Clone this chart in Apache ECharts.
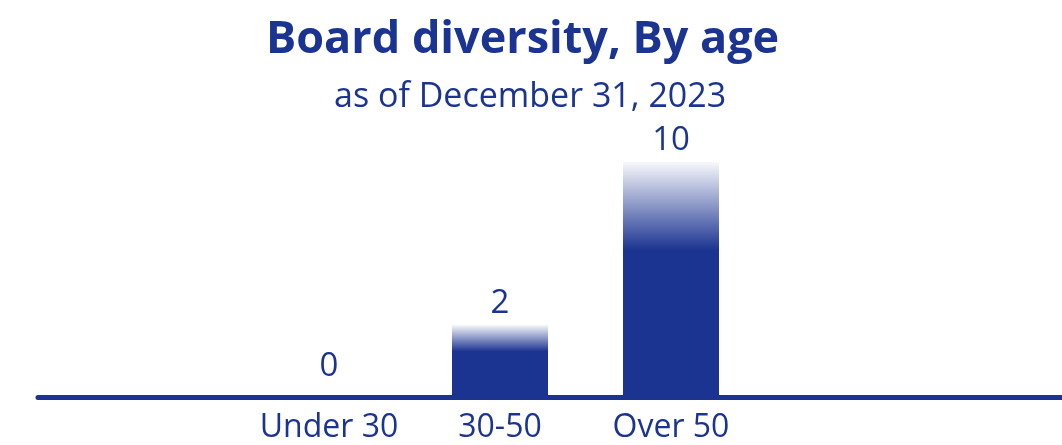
<!DOCTYPE html>
<html>
<head>
<meta charset="utf-8">
<script src="https://cdn.jsdelivr.net/npm/echarts@6/dist/echarts.min.js"></script>
<style>
  html, body { margin: 0; padding: 0; background: #ffffff; }
  #chart { width: 1062px; height: 445px; }
</style>
</head>
<body>
<div id="chart"></div>
<script>
// Board members by age band
const ageGroups = ['Under 30', '30-50', 'Over 50'];
const memberCounts = [0, 2, 10];

const BLUE = '#1b3391';
const FONT = '"Open Sans", Lato, sans-serif';

// Counts of zero cannot sit on a log scale; they are labelled on a linear twin axis.
const zeroCounts = memberCounts.map(v => (v === 0 ? 0 : '-'));

const chart = echarts.init(document.getElementById('chart'), null, { renderer: 'canvas' });

const valueLabel = {
  show: true,
  position: 'top',
  color: BLUE,
  fontFamily: FONT,
  fontSize: 33
};

chart.setOption({
  backgroundColor: '#ffffff',
  animation: false,
  title: [
    {
      text: 'Board diversity, By age',
      left: 261,
      top: 13,
      textStyle: { color: BLUE, fontFamily: FONT, fontWeight: 'bold', fontSize: 45 }
    },
    {
      text: 'as of December 31, 2023',
      left: 329,
      top: 75,
      textStyle: { color: BLUE, fontFamily: FONT, fontWeight: 'normal', fontSize: 34 }
    }
  ],
  grid: [
    // bar area
    { left: 243.5, right: 305.5, top: 162, bottom: 50, containLabel: false },
    // full-width baseline
    { left: 38, right: -10, top: 100, bottom: 47.5, containLabel: false }
  ],
  xAxis: [
    {
      type: 'category',
      gridIndex: 0,
      data: ageGroups,
      axisLine: { show: false },
      axisTick: { show: false },
      axisLabel: { interval: 0, color: BLUE, fontFamily: FONT, fontSize: 32, margin: 17 }
    },
    {
      type: 'value',
      gridIndex: 1,
      min: 0, max: 1,
      axisLine: { show: true, lineStyle: { color: BLUE, width: 5, cap: 'round' } },
      axisTick: { show: false },
      axisLabel: { show: false },
      splitLine: { show: false }
    }
  ],
  yAxis: [
    { type: 'log', gridIndex: 0, logBase: 10, min: 1, max: 10, show: false },
    { type: 'value', gridIndex: 0, min: 0, max: 10, show: false },
    { type: 'value', gridIndex: 1, show: false }
  ],
  series: [
    {
      type: 'bar',
      xAxisIndex: 0,
      yAxisIndex: 0,
      data: memberCounts,
      barWidth: 96,
      itemStyle: {
        color: new echarts.graphic.LinearGradient(0, 0, 0, 1, [
          { offset: 0, color: 'rgba(27,51,145,0.03)' },
          { offset: 0.38, color: BLUE },
          { offset: 1, color: BLUE }
        ])
      },
      label: Object.assign({ distance: 5 }, valueLabel)
    },
    {
      type: 'bar',
      xAxisIndex: 0,
      yAxisIndex: 1,
      data: zeroCounts,
      barWidth: 96,
      barGap: '-100%',
      itemStyle: { color: BLUE },
      label: Object.assign({ distance: 12 }, valueLabel)
    }
  ]
});
</script>
</body>
</html>
